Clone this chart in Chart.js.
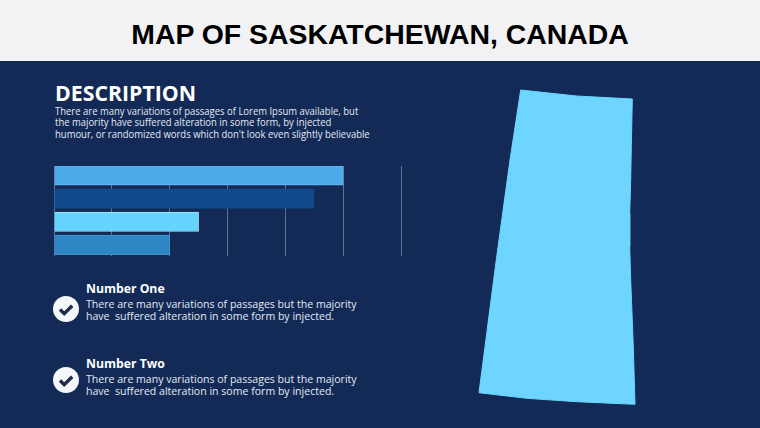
<!DOCTYPE html>
<html><head><meta charset="utf-8">
<script src="https://cdn.jsdelivr.net/npm/chart.js@4/dist/chart.umd.min.js"></script>
<style>
html,body{margin:0;padding:0;background:#122a55;overflow:hidden}
#s{position:relative;width:760px;height:428px;background:#122a55;font-family:"Open Sans",sans-serif;color:#e4e9f3}
#s div{position:absolute;white-space:pre;transform-origin:0 0}
#band{left:0;top:0;width:760px;height:61px;background:#f2f2f4}
#title{left:0;width:760px;top:16px;text-align:center;font:bold 28.4px/36px "Liberation Sans",sans-serif;color:#000}
#h{left:55px;top:78.5px;font-size:21.3px;line-height:27px;font-weight:700;color:#fff}
.p{font-size:10.6px;line-height:11.5px;transform:scaleX(.895)}
.n{font-size:13px;line-height:17px;font-weight:700;color:#fff;transform:scaleX(.94)}
.q{font-size:11px;line-height:12.6px;transform:scaleX(.96)}
svg{position:absolute}
canvas{position:absolute}
#barBox{position:absolute;left:44px;top:160px;width:367px;height:102px}
#mapBox{position:absolute;left:470px;top:80px;width:170px;height:330px}
</style></head><body>
<div id="s">
<div id="band"></div><div id="title">MAP OF SASKATCHEWAN, CANADA</div>
<div id="h">DESCRIPTION</div>
<div class="p" style="left:55px;top:105.5px">There are many variations of passages of Lorem Ipsum available, but
the majority have suffered alteration in some form, by injected
humour, or randomized words which don't look even slightly believable</div>
<section id="barBox"><canvas id="bars"></canvas></section>
<section id="mapBox"><canvas id="map"></canvas></section>
<div class="n" style="left:86px;top:280px">Number One</div>
<div class="q" style="left:86px;top:297.5px">There are many variations of passages but the majority
have  suffered alteration in some form by injected.</div>
<div class="n" style="left:86px;top:355px">Number Two</div>
<div class="q" style="left:86px;top:372.5px">There are many variations of passages but the majority
have  suffered alteration in some form by injected.</div>
<svg style="left:52px;top:295px" width="28" height="28"><circle cx="14" cy="14" r="13" fill="#f4f6fa"/><path d="M8 14.5l4.2 4.2 8-8" fill="none" stroke="#1f2c4a" stroke-width="3.4"/></svg>
<svg style="left:52px;top:366px" width="28" height="28"><circle cx="14" cy="14" r="13" fill="#f4f6fa"/><path d="M8 14.5l4.2 4.2 8-8" fill="none" stroke="#1f2c4a" stroke-width="3.4"/></svg>
</div>
<script>
const categories = [0,1,2,3];
const barValues = [5, 4.5, 2.5, 2];
const barColors = ["#4eaaea","#114a8a","#66d4ff","#2e86c4"];
const barEdges = ["#66b8ee","#114a8a","#a6e6ff","#3f93cd"];
const xTicks = [0,1,2,3,4,5,6];
// outline, map units
const westEdgeX = [50.7, 40, 26.7, 9];
const westEdgeY = [10, 80, 176.7, 312.7];
const southEdgeX = [9, 56.7, 106.7, 165];
const southEdgeY = [312.7, 318.3, 321.7, 324.3];
const eastEdgeX = [50.7, 106.7, 162.3, 161.3, 160.7, 159.7, 159.7, 160.7, 163.3, 165];
const eastEdgeY = [10, 16, 19, 66.7, 100, 133.3, 166.7, 200, 266.7, 324.3];

new Chart(document.getElementById('bars'), {
  type:'bar',
  data:{datasets:[{data:categories.map((c,i)=>({x:barValues[i],y:c})),backgroundColor:barColors,borderColor:barEdges,borderWidth:1,barThickness:19.5}]},
  options:{indexAxis:'y',responsive:true,maintainAspectRatio:false,animation:false,
    layout:{padding:{left:10,right:10,top:6,bottom:6}},
    plugins:{legend:{display:false},tooltip:{enabled:false}},
    scales:{
      x:{min:xTicks[0],max:xTicks[xTicks.length-1],afterBuildTicks(a){a.ticks=xTicks.map(v=>({value:v}));},
         ticks:{display:false},border:{display:false},grid:{color:'#5f7295',lineWidth:1,drawTicks:false}},
      y:{type:'linear',display:false,reverse:true,offset:false,min:-0.41,max:3.48}
    }}
});

const westPts = westEdgeX.map((x,i)=>({x,y:westEdgeY[i]})).concat(southEdgeX.slice(1).map((x,i)=>({x,y:southEdgeY[i+1]})));
const eastPts = eastEdgeX.map((x,i)=>({x,y:eastEdgeY[i]}));
new Chart(document.getElementById('map'), {
  type:'line',
  data:{datasets:[
    {data:eastPts,fill:1,backgroundColor:'#6dd5ff',borderColor:'#6dd5ff',borderWidth:1,pointRadius:0,tension:0},
    {data:westPts,fill:false,borderColor:'#6dd5ff',borderWidth:1,pointRadius:0,tension:0}
  ]},
  options:{indexAxis:'y',responsive:true,maintainAspectRatio:false,animation:false,
    layout:{padding:0},
    plugins:{legend:{display:false},tooltip:{enabled:false}},
    scales:{x:{type:'linear',display:false,min:0,max:170},y:{type:'linear',display:false,reverse:true,min:0,max:330}}}
});
</script>
</body></html>
